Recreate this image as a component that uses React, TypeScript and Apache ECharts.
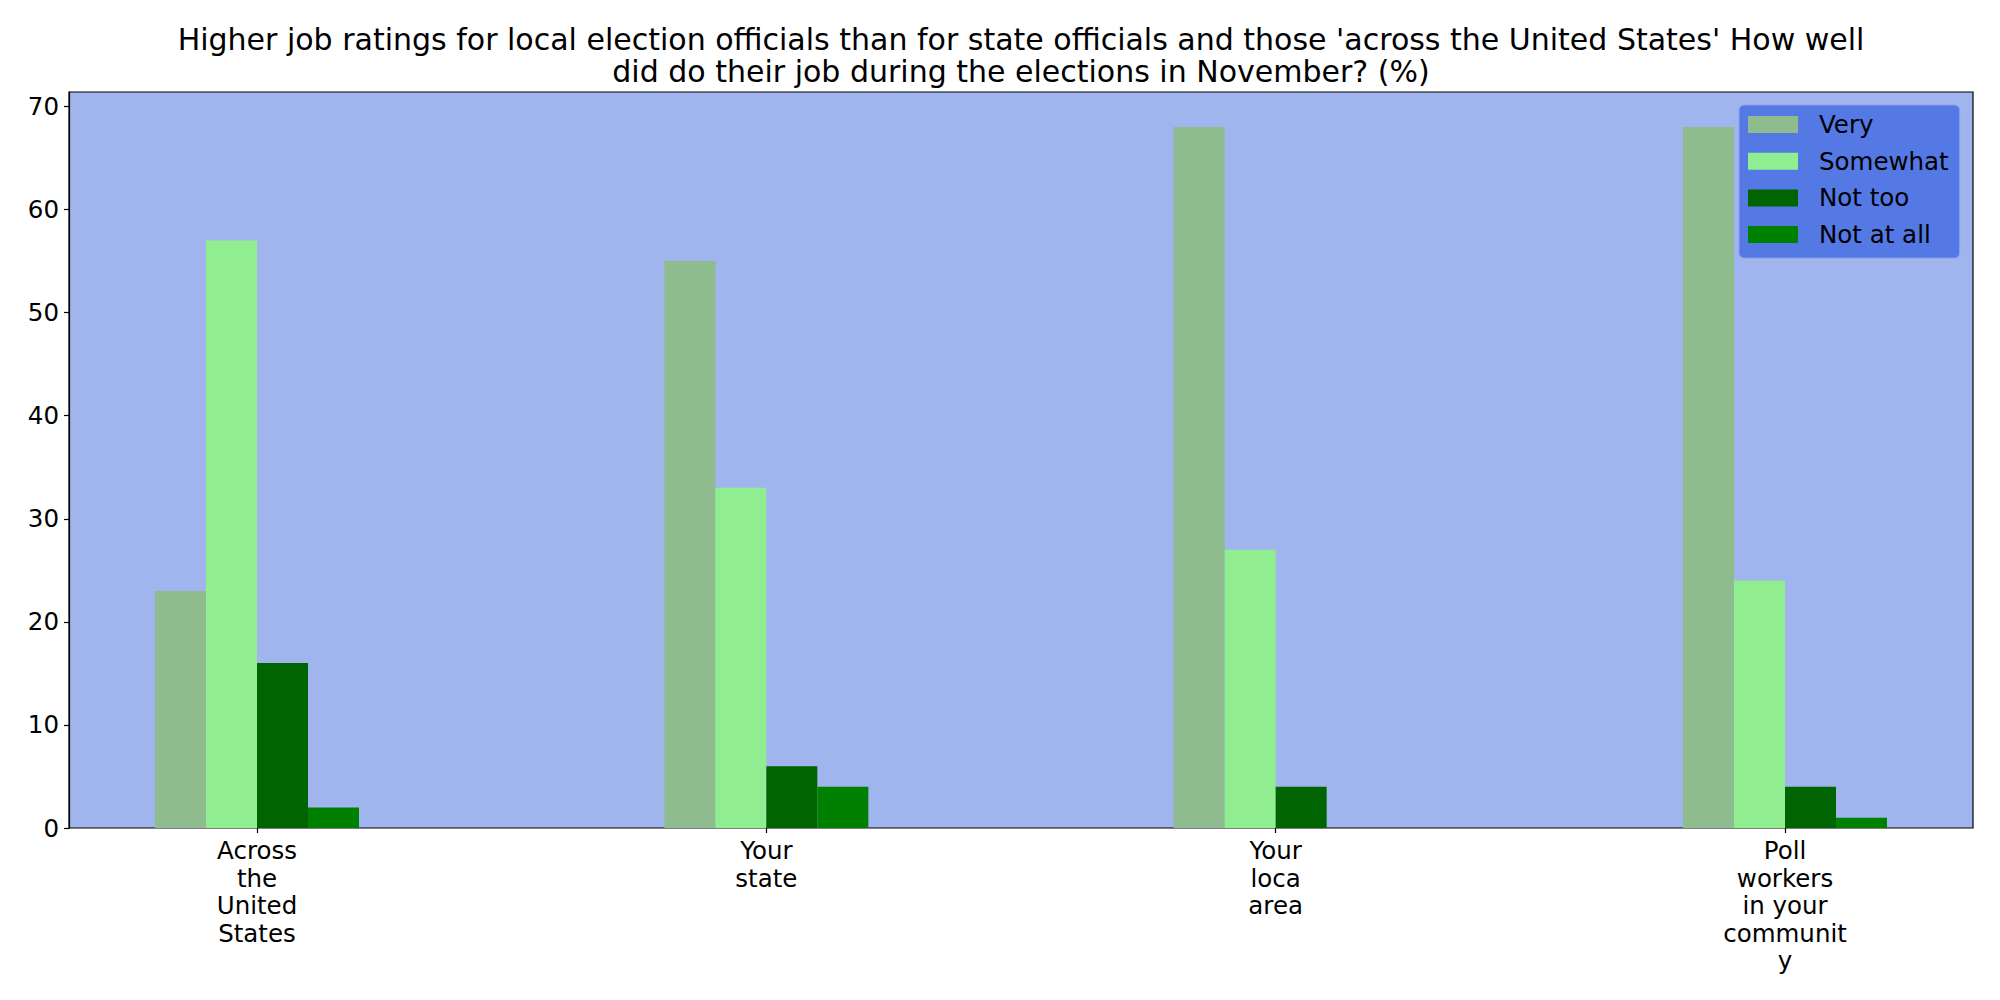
import React, { useEffect, useRef } from "react";
import * as echarts from "echarts";

const categories = [
  "Across\nthe\nUnited\nStates",
  "Your\nstate",
  "Your\nloca\narea",
  "Poll\nworkers\nin your\ncommunit\ny",
];
const seriesNames = ["Very", "Somewhat", "Not too", "Not at all"];
const very = [23, 55, 68, 68];
const somewhat = [57, 33, 27, 24];
const notToo = [16, 6, 4, 4];
const notAtAll = [2, 4, 0, 1];
const yTicks = [0, 10, 20, 30, 40, 50, 60, 70];
const yMax = 71.4;
const colors = ["#8fbc8f", "#90ee90", "#006400", "#008000"];
const titleText =
  "Higher job ratings for local election officials than for state officials and those 'across the United States' How well\ndid do their job during the elections in November? (%)";

const FONT = "DejaVu Sans";
const FS = 24.5;

export default function App() {
  const ref = useRef<HTMLDivElement>(null);
  useEffect(() => {
    if (!ref.current) return;
    const chart = echarts.init(ref.current, null, { renderer: "svg" });
    const values = [very, somewhat, notToo, notAtAll];
    const gridTop = 92;
    const gridBottom = 172;
    chart.setOption({
      animation: false,
      backgroundColor: "#ffffff",
      textStyle: { fontFamily: FONT },
      graphic: [
        {
          type: "text",
          x: 1021,
          y: 23,
          style: {
            text: titleText,
            fontFamily: FONT,
            fontSize: 30,
            lineHeight: 32,
            fill: "#000",
            textAlign: "center",
            textVerticalAlign: "top",
          },
        },
      ],
      grid: [
        {
          left: 69,
          right: 27,
          top: gridTop,
          bottom: gridBottom,
          show: true,
          backgroundColor: "#a0b4ee",
          borderColor: "#000",
          borderWidth: 1.2,
          z: 0,
        },
        {
          left: 257,
          right: 215,
          top: gridTop,
          bottom: gridBottom,
          show: false,
        },
      ],
      xAxis: [
        { type: "value", gridIndex: 0, show: false, min: 0, max: 1 },
        {
          type: "category",
          gridIndex: 1,
          data: categories,
          boundaryGap: false,
          axisLine: { show: false },
          axisTick: { show: true, length: 5, lineStyle: { color: "#000", width: 1.2 } },
          axisLabel: {
            color: "#000",
            fontFamily: FONT,
            fontSize: FS,
            lineHeight: 27.5,
            margin: 9,
            interval: 0,
            align: "center",
          },
          splitLine: { show: false },
        },
      ],
      yAxis: [
        {
          type: "value",
          gridIndex: 0,
          min: 0,
          max: yMax,
          axisLine: { show: true, lineStyle: { color: "#000", width: 1.2 } },
          axisTick: {
            show: true,
            length: 5,
            customValues: yTicks,
            lineStyle: { color: "#000", width: 1.2 },
          },
          axisLabel: {
            color: "#000",
            fontFamily: FONT,
            fontSize: FS,
            margin: 10,
            customValues: yTicks,
          },
          splitLine: { show: false },
        },
        {
          type: "value",
          gridIndex: 1,
          min: 0,
          max: yMax,
          show: false,
          splitLine: { show: false },
        },
      ],
      legend: {
        left: 1739,
        top: 105,
        orient: "vertical",
        icon: "rect",
        itemWidth: 50,
        itemHeight: 17,
        itemGap: 11.7,
        padding: [7, 11, 11, 9],
        backgroundColor: "#5478e4",
        borderColor: "#8ea3e6",
        borderWidth: 1,
        borderRadius: 5,
        data: seriesNames,
        textStyle: {
          color: "#000",
          fontFamily: FONT,
          fontSize: FS,
          lineHeight: 25,
          padding: [0, 0, 0, 16],
        },
      },
      series: seriesNames.map((name, i) => ({
        name,
        type: "bar",
        xAxisIndex: 1,
        yAxisIndex: 1,
        data: values[i],
        barWidth: 51,
        barGap: "0%",
        clip: false,
        itemStyle: { color: colors[i] },
        z: 2,
      })),
    });
    return () => chart.dispose();
  }, []);
  return (
    <div
      ref={ref}
      style={{ position: "fixed", left: 0, top: 0, width: 2000, height: 1000 }}
    />
  );
}
